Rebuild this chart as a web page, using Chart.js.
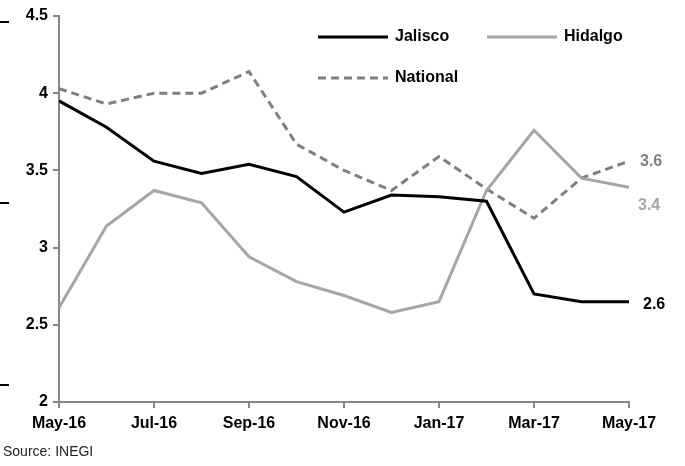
<!DOCTYPE html>
<html lang="en">
<head>
    <meta charset="UTF-8">
    <title>Jalisco, Hidalgo, National</title>
    <script src="https://cdn.jsdelivr.net/npm/chart.js"></script>
    <style>
        body {
            margin: 0;
            padding: 0;
            background: #fff;
        }
        .wrap {
            position: relative;
            width: 685px;
            height: 466px;
        }
        .source {
            position: absolute;
            left: 3px;
            top: 443px;
            font-family: "Liberation Sans Narrow", "Arial Narrow", Arial, sans-serif;
            font-size: 14px;
            color: #222;
        }
    </style>
</head>
<body>
    <div class="wrap">
        <canvas id="grafico" width="685" height="466"></canvas>
        <div class="source">Source: INEGI</div>
    </div>

    <script>
        const months = ["May-16", "Jun-16", "Jul-16", "Aug-16", "Sep-16", "Oct-16", "Nov-16",
                        "Dec-16", "Jan-17", "Feb-17", "Mar-17", "Apr-17", "May-17"];
        const jalisco = [3.95, 3.78, 3.56, 3.48, 3.54, 3.46, 3.23, 3.34, 3.33, 3.30, 2.70, 2.65, 2.65];
        const hidalgo = [2.61, 3.14, 3.37, 3.29, 2.94, 2.78, 2.69, 2.58, 2.65, 3.37, 3.76, 3.45, 3.39];
        const national = [4.03, 3.93, 4.00, 4.00, 4.14, 3.67, 3.50, 3.37, 3.59, 3.38, 3.19, 3.45, 3.56];
        const yTicks = [2, 2.5, 3, 3.5, 4, 4.5];

        const FONT = '"Liberation Sans Narrow", "Arial Narrow", Arial, sans-serif';

        const pts = arr => arr.map((v, i) => ({ x: i, y: v }));

        // leyenda + etiquetas finales dibujadas a mano
        const extras = {
            id: "extras",
            afterDraw(chart) {
                const ctx = chart.ctx;
                ctx.save();
                ctx.font = "bold 16px " + FONT;
                ctx.textBaseline = "middle";
                ctx.textAlign = "left";

                const legend = [
                    { ds: 0, x: 318, y: 37 },
                    { ds: 1, x: 487, y: 37 },
                    { ds: 2, x: 318, y: 78 },
                ];
                legend.forEach(l => {
                    const d = chart.data.datasets[l.ds];
                    ctx.strokeStyle = d.borderColor;
                    ctx.lineWidth = 3;
                    ctx.setLineDash(d.borderDash || []);
                    ctx.beginPath();
                    ctx.moveTo(l.x, l.y);
                    ctx.lineTo(l.x + 70, l.y);
                    ctx.stroke();
                    ctx.setLineDash([]);
                    ctx.fillStyle = "#000";
                    ctx.fillText(d.label, l.x + 77, l.y);
                });

                // valores finales
                const ends = [
                    { ds: 0, dx: 14, dy: 3, color: "#000" },
                    { ds: 1, dx: 9, dy: 18, color: "#a6a6a6" },
                    { ds: 2, dx: 11, dy: 0, color: "#7f7f7f" },
                ];
                ends.forEach(e => {
                    const meta = chart.getDatasetMeta(e.ds);
                    const p = meta.data[meta.data.length - 1];
                    const v = chart.data.datasets[e.ds].data[meta.data.length - 1].y;
                    ctx.fillStyle = e.color;
                    ctx.fillText(v.toFixed(1), p.x + e.dx, p.y + e.dy);
                });

                // marcas negras del borde izquierdo
                ctx.fillStyle = "#000";
                [22, 203, 385].forEach(y => ctx.fillRect(0, y - 1, 9, 2));
                ctx.restore();
            }
        };

        new Chart(document.getElementById("grafico"), {
            type: "line",
            data: {
                datasets: [
                    { label: "Jalisco", data: pts(jalisco), borderColor: "#000000", borderWidth: 3 },
                    { label: "Hidalgo", data: pts(hidalgo), borderColor: "#a6a6a6", borderWidth: 3 },
                    { label: "National", data: pts(national), borderColor: "#7f7f7f", borderWidth: 3, borderDash: [8, 5] },
                ],
            },
            options: {
                responsive: false,
                animation: false,
                events: [],
                elements: {
                    point: { radius: 0 },
                    line: { tension: 0, fill: false },
                },
                layout: { padding: { top: 16, right: 56, left: 0, bottom: 0 } },
                plugins: {
                    legend: { display: false },
                    tooltip: { enabled: false },
                },
                scales: {
                    x: {
                        type: "linear",
                        min: 0,
                        max: months.length - 1,
                        afterBuildTicks: axis => {
                            axis.ticks = months.map((m, i) => ({ value: i })).filter(t => t.value % 2 === 0);
                        },
                        afterFit: axis => { axis.height = 64; },
                        ticks: {
                            callback: v => months[v],
                            font: { family: FONT, size: 16, weight: "bold" },
                            color: "#000",
                            padding: 6,
                            maxRotation: 0,
                        },
                        grid: { drawOnChartArea: false, tickLength: 6, color: "#878787", lineWidth: 2 },
                        border: { color: "#878787", width: 2 },
                    },
                    y: {
                        min: 2,
                        max: 4.5,
                        afterBuildTicks: axis => {
                            axis.ticks = yTicks.map(v => ({ value: v }));
                        },
                        afterFit: axis => { axis.width = 59; },
                        ticks: {
                            callback: v => String(v),
                            font: { family: FONT, size: 16, weight: "bold" },
                            color: "#000",
                            padding: 5,
                        },
                        grid: { drawOnChartArea: false, tickLength: 6, color: "#878787", lineWidth: 2 },
                        border: { color: "#878787", width: 2 },
                    },
                },
            },
            plugins: [extras],
        });
    </script>
</body>
</html>
